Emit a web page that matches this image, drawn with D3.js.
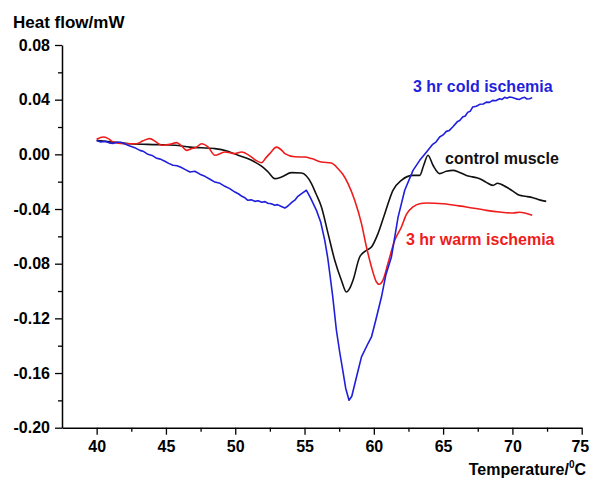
<!DOCTYPE html>
<html>
<head>
<meta charset="utf-8">
<script src="https://cdn.jsdelivr.net/npm/d3@7"></script>
<style>
  html, body { margin: 0; padding: 0; background: #fff; }
  svg { display: block; }
  text { font-family: "Liberation Sans", Arial, Helvetica, sans-serif; font-weight: bold; }
</style>
</head>
<body>
<div id="chart"></div>
<script>
// ---- data (temperature in °C, heat flow in mW) ----
const xTicks = [40, 45, 50, 55, 60, 65, 70, 75];
const xMinorTicks = [42.5, 47.5, 52.5, 57.5, 62.5, 67.5, 72.5];
const yTicks = [0.08, 0.04, 0.00, -0.04, -0.08, -0.12, -0.16, -0.20];
const yMinorTicks = [0.06, 0.02, -0.02, -0.06, -0.10, -0.14, -0.18];

const coldIschemia = [
  [40.00, 0.0102], [40.30, 0.0090], [40.60, 0.0095], [40.90, 0.0084], [41.18, 0.0080],
  [41.45, 0.0089], [41.75, 0.0088], [42.05, 0.0076], [42.40, 0.0061], [42.75, 0.0049],
  [43.12, 0.0029], [43.40, 0.0020], [43.70, 0.0000], [44.00, -0.0008], [44.33, -0.0029],
  [44.60, -0.0035], [44.92, -0.0051], [45.20, -0.0066], [45.50, -0.0080], [45.80, -0.0083],
  [46.08, -0.0095], [46.40, -0.0112], [46.73, -0.0129], [47.09, -0.0124], [47.45, -0.0145],
  [47.81, -0.0161], [48.15, -0.0180], [48.53, -0.0203], [48.90, -0.0212], [49.25, -0.0234],
  [49.60, -0.0251], [49.98, -0.0276], [50.25, -0.0290], [50.48, -0.0307], [50.70, -0.0318],
  [50.91, -0.0336], [51.15, -0.0333], [51.41, -0.0344], [51.65, -0.0339], [51.92, -0.0351],
  [52.15, -0.0346], [52.35, -0.0358], [52.60, -0.0362], [52.86, -0.0373], [53.05, -0.0368],
  [53.29, -0.0380], [53.58, -0.0393], [53.80, -0.0378], [54.08, -0.0351], [54.30, -0.0335],
  [54.52, -0.0307], [54.81, -0.0285], [55.14, -0.0263], [55.45, -0.0322],
  [55.86, -0.0410], [56.17, -0.0497], [56.46, -0.0629], [56.68, -0.0761], [56.82, -0.0870],
  [57.04, -0.1044], [57.30, -0.1287], [57.54, -0.1448], [57.76, -0.1580], [57.97, -0.1711],
  [58.21, -0.1799], [58.41, -0.1770], [58.75, -0.1629], [59.11, -0.1482], [59.58, -0.1384],
  [59.83, -0.1336], [60.14, -0.1214], [60.55, -0.1044], [60.86, -0.0885], [61.27, -0.0751],
  [61.75, -0.0459], [62.23, -0.0263], [62.83, -0.0117], [63.31, -0.0044], [63.79, 0.0015],
  [64.25, 0.0073], [64.50, 0.0092], [64.75, 0.0127], [65.00, 0.0142], [65.23, 0.0168],
  [65.45, 0.0175], [65.69, 0.0200], [66.05, 0.0241], [66.20, 0.0248], [66.41, 0.0273],
  [66.60, 0.0281], [66.77, 0.0307], [66.95, 0.0315], [67.13, 0.0346], [67.40, 0.0352],
  [67.64, 0.0366], [67.90, 0.0368], [68.12, 0.0382], [68.35, 0.0380], [68.57, 0.0395],
  [68.80, 0.0392], [69.08, 0.0407], [69.25, 0.0402], [69.44, 0.0417], [69.60, 0.0411],
  [69.80, 0.0419], [70.00, 0.0416], [70.16, 0.0410], [70.35, 0.0404], [70.52, 0.0402],
  [70.70, 0.0412], [70.88, 0.0417], [71.05, 0.0405], [71.24, 0.0407], [71.43, 0.0415]
];

const controlMuscle = [
  [40.00, 0.0102], [40.96, 0.0091], [42.40, 0.0078], [44.33, 0.0071], [45.65, 0.0066],
  [46.73, 0.0053], [48.53, 0.0042], [49.47, 0.0022], [50.21, -0.0007], [50.84, -0.0029],
  [51.41, -0.0056], [51.92, -0.0088], [52.37, -0.0129], [52.86, -0.0178], [53.34, -0.0166],
  [54.06, -0.0134], [54.78, -0.0137], [55.50, -0.0214], [55.81, -0.0285], [56.22, -0.0385],
  [56.70, -0.0580], [57.18, -0.0775], [57.66, -0.0921], [58.02, -0.1007], [58.26, -0.0980],
  [58.50, -0.0921], [58.98, -0.0751], [59.47, -0.0702], [59.83, -0.0678], [60.30, -0.0580],
  [60.79, -0.0434], [61.38, -0.0263], [61.99, -0.0190], [62.83, -0.0154], [63.31, -0.0154],
  [63.60, -0.0080], [63.91, -0.0007], [64.27, -0.0080], [64.75, -0.0141], [65.23, -0.0124],
  [65.71, -0.0117], [66.19, -0.0132], [66.68, -0.0154], [67.13, -0.0165], [67.64, -0.0178],
  [68.12, -0.0205], [68.59, -0.0227], [68.93, -0.0212], [69.56, -0.0239], [70.01, -0.0267],
  [70.52, -0.0300], [70.95, -0.0307], [71.48, -0.0317], [71.96, -0.0333], [72.44, -0.0344]
];

const warmIschemia = [
  [40.00, 0.0110], [40.48, 0.0127], [40.81, 0.0117], [41.20, 0.0090], [41.92, 0.0078],
  [42.88, 0.0078], [43.34, 0.0099], [43.84, 0.0115], [44.28, 0.0091], [44.69, 0.0066],
  [45.00, 0.0069], [45.28, 0.0073], [45.77, 0.0086], [46.15, 0.0059], [46.49, 0.0029],
  [46.80, 0.0040], [47.21, 0.0053], [47.57, 0.0078], [48.05, 0.0053], [48.53, -0.0007],
  [49.25, 0.0017], [49.97, 0.0005], [50.45, 0.0017], [51.18, -0.0020], [51.49, -0.0044],
  [51.90, -0.0061], [52.21, -0.0026], [52.49, 0.0005], [52.98, 0.0053], [53.36, 0.0029],
  [53.58, 0.0005], [54.30, -0.0018], [55.02, -0.0020], [55.50, -0.0031], [56.22, -0.0056],
  [56.94, -0.0064], [57.42, -0.0105], [57.76, -0.0146], [58.14, -0.0214], [58.62, -0.0336],
  [59.11, -0.0507], [59.47, -0.0678], [59.83, -0.0824], [60.19, -0.0934], [60.38, -0.0951],
  [60.66, -0.0921], [61.02, -0.0799], [61.51, -0.0629], [61.99, -0.0532], [62.35, -0.0439],
  [62.83, -0.0385], [63.31, -0.0361], [63.79, -0.0356], [64.99, -0.0361], [65.83, -0.0373],
  [66.68, -0.0385], [68.12, -0.0410], [69.08, -0.0422], [70.04, -0.0429], [70.52, -0.0424],
  [71.43, -0.0446]
];

const seriesNames = ["3 hr cold ischemia", "control muscle", "3 hr warm ischemia"];
const seriesColors = ["#1f1fdc", "#111111", "#ee1c1c"];

// ---- drawing ----
const W = 589, H = 480;
const svg = d3.select("#chart").append("svg").attr("width", W).attr("height", H);
svg.append("rect").attr("width", W).attr("height", H).attr("fill", "#fff");

const x = d3.scaleLinear().domain([37.5, 75]).range([62, 581.7]);
const y = d3.scaleLinear().domain([-0.20, 0.08]).range([427.7, 45]);

// axes
const xAxis = svg.append("g").attr("transform", `translate(0,${y(-0.20)})`)
  .call(d3.axisBottom(x).tickValues(xTicks).tickSize(7).tickSizeOuter(0).tickPadding(6).tickFormat(d3.format("d")));
svg.append("g").attr("transform", `translate(0,${y(-0.20)})`)
  .call(d3.axisBottom(x).tickValues(xMinorTicks).tickSize(4).tickSizeOuter(0).tickFormat(""))
  .call(g => g.select(".domain").remove());

const yAxis = svg.append("g").attr("transform", `translate(${x(37.5)},0)`)
  .call(d3.axisLeft(y).tickValues(yTicks).tickSize(7).tickSizeOuter(0).tickPadding(5).tickFormat(d => d.toFixed(2)));
svg.append("g").attr("transform", `translate(${x(37.5)},0)`)
  .call(d3.axisLeft(y).tickValues(yMinorTicks).tickSize(4).tickSizeOuter(0).tickFormat(""))
  .call(g => g.select(".domain").remove());

svg.selectAll(".domain").attr("stroke", "#000").attr("stroke-width", 1.5);
svg.selectAll(".tick line").attr("stroke", "#000").attr("stroke-width", 1.3);
svg.selectAll(".tick text").attr("font-size", 16).attr("fill", "#000")
  .attr("font-family", "'Liberation Sans', Arial, sans-serif").attr("font-weight", "bold");
// keep the last x label inside the picture
xAxis.selectAll(".tick text").filter(d => d === 75).attr("text-anchor", "end").attr("dx", 7);

// axis titles
svg.append("text").attr("x", 13).attr("y", 28).attr("font-size", 17).attr("fill", "#000")
  .text("Heat flow/mW");
const xt = svg.append("text").attr("x", 586).attr("y", 475).attr("text-anchor", "end")
  .attr("font-size", 16).attr("fill", "#000");
xt.append("tspan").text("Temperature/");
xt.append("tspan").attr("font-size", 10).attr("dy", -7).text("0");
xt.append("tspan").attr("dy", 7).text("C");

// curves
const lineSmooth = d3.line().x(d => x(d[0])).y(d => y(d[1])).curve(d3.curveMonotoneX);
const lineRough = d3.line().x(d => x(d[0])).y(d => y(d[1])).curve(d3.curveLinear);

svg.append("path").datum(controlMuscle).attr("d", lineSmooth)
  .attr("fill", "none").attr("stroke", seriesColors[1]).attr("stroke-width", 1.6);
svg.append("path").datum(warmIschemia).attr("d", lineSmooth)
  .attr("fill", "none").attr("stroke", seriesColors[2]).attr("stroke-width", 1.6);
svg.append("path").datum(coldIschemia).attr("d", lineRough)
  .attr("fill", "none").attr("stroke", seriesColors[0]).attr("stroke-width", 1.6)
  .attr("stroke-linejoin", "round");

// series labels
svg.append("text").attr("x", 413).attr("y", 91.5).attr("font-size", 16).attr("fill", seriesColors[0]).text(seriesNames[0]);
svg.append("text").attr("x", 445).attr("y", 163.5).attr("font-size", 16).attr("fill", seriesColors[1]).text(seriesNames[1]);
svg.append("text").attr("x", 406).attr("y", 245).attr("font-size", 16).attr("fill", seriesColors[2]).text(seriesNames[2]);
</script>
</body>
</html>
